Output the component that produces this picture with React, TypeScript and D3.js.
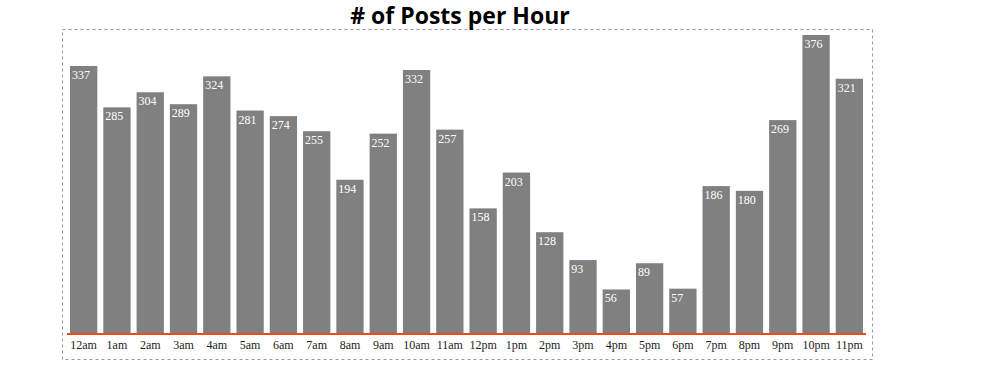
import React, { useEffect, useRef } from 'react'
import * as d3 from 'd3'

const width = 986
const height = 367

const hours = ['12am', '1am', '2am', '3am', '4am', '5am', '6am', '7am', '8am', '9am', '10am', '11am',
  '12pm', '1pm', '2pm', '3pm', '4pm', '5pm', '6pm', '7pm', '8pm', '9pm', '10pm', '11pm']
const posts = [337, 285, 304, 289, 324, 281, 274, 255, 194, 252, 332, 257,
  158, 203, 128, 93, 56, 89, 57, 186, 180, 269, 376, 321]

const App = () => {
  const svgR = useRef<SVGSVGElement>(null)

  useEffect(() => {
    const svg = d3.select(svgR.current)
    svg.selectAll('*').remove()

    // dashed frame
    svg.append('rect')
      .attr('x', 62.5).attr('y', 29.5)
      .attr('width', 810).attr('height', 330)
      .attr('fill', 'none')
      .attr('stroke', '#999')
      .attr('stroke-dasharray', '3,3')

    svg.append('text')
      .attr('x', 460).attr('y', 24)
      .attr('text-anchor', 'middle')
      .style('font-family', '"Open Sans", sans-serif')
      .style('font-weight', 'bold')
      .style('font-size', '23px')
      .text('# of Posts per Hour')

    const x = d3.scaleBand()
      .domain(hours)
      .range([67, 866])
      .paddingInner(0.18)
      .paddingOuter(0.09)

    const y = d3.scaleLinear()
      .domain([0, 376])
      .range([334, 35])

    const data = hours.map((h, i) => ({ hour: h, value: posts[i] }))

    svg.append('g').selectAll('rect').data(data).enter().append('rect')
      .attr('x', d => x(d.hour)!)
      .attr('y', d => y(d.value))
      .attr('width', x.bandwidth())
      .attr('height', d => y(0) - y(d.value))
      .attr('fill', '#808080')

    svg.append('g').selectAll('text').data(data).enter().append('text')
      .attr('x', d => x(d.hour)! + 2)
      .attr('y', d => y(d.value) + 13)
      .attr('fill', 'white')
      .style('font-family', '"Liberation Serif", serif')
      .style('font-size', '12px')
      .text(d => d.value)

    svg.append('line')
      .attr('x1', 67).attr('x2', 866)
      .attr('y1', y(0)).attr('y2', y(0))
      .attr('stroke', '#ee4a1c')
      .attr('stroke-width', 2)

    svg.append('g').selectAll('text').data(hours).enter().append('text')
      .attr('x', d => x(d)! + x.bandwidth() / 2)
      .attr('y', 349)
      .attr('text-anchor', 'middle')
      .attr('fill', '#222')
      .style('font-family', '"Liberation Serif", serif')
      .style('font-size', '12px')
      .text(d => d)
  }, [])

  return (
    <svg ref={svgR} width={width} height={height}
      style={{ position: 'absolute', left: 0, top: 0, background: 'white' }} />
  )
}

export default App
